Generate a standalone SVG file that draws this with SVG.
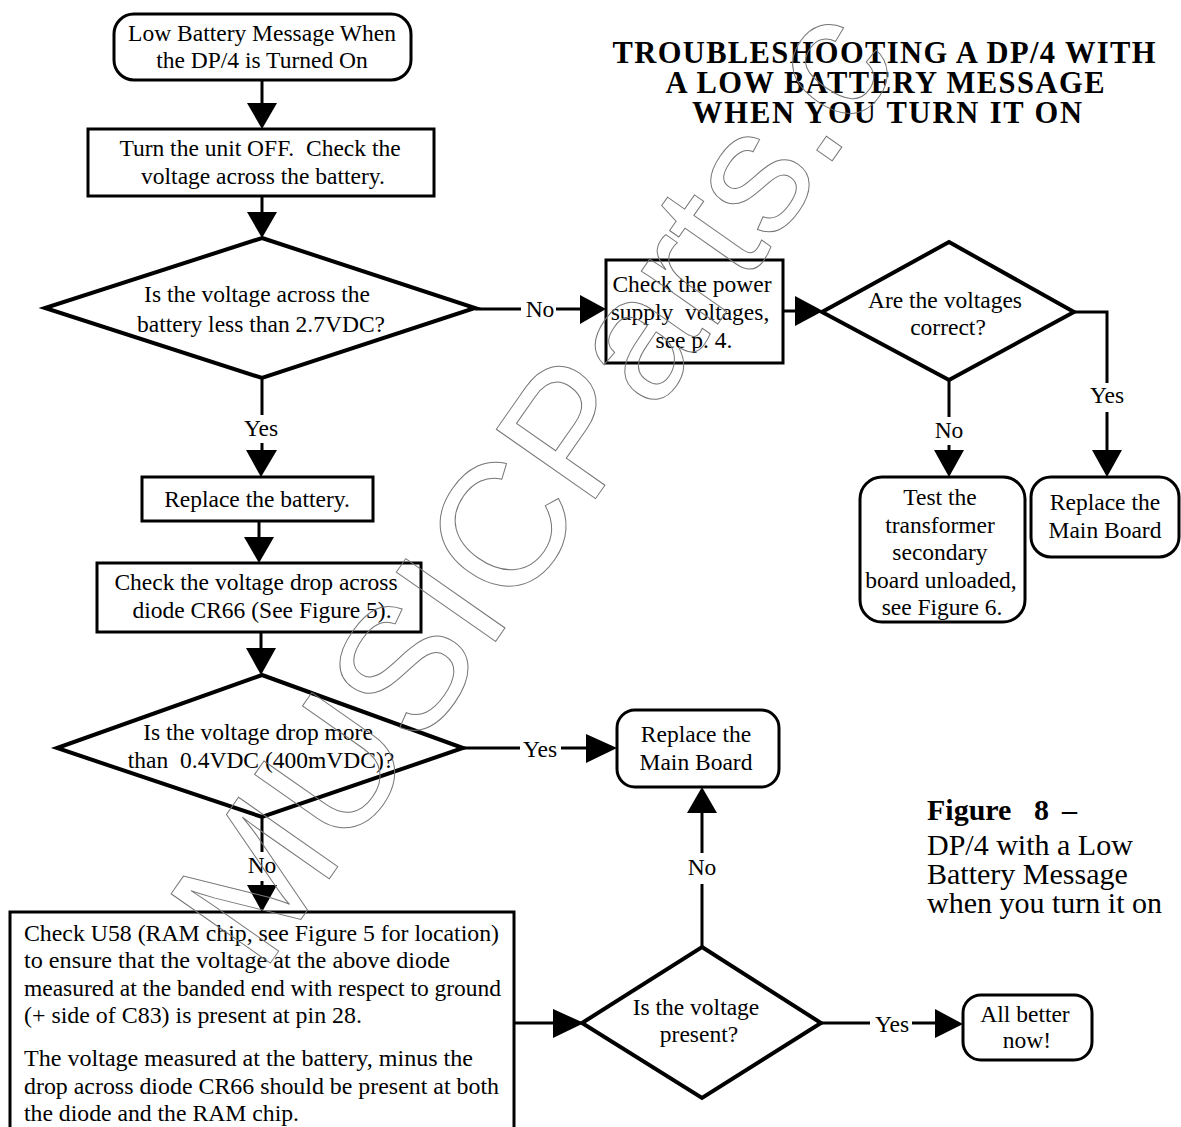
<svg xmlns="http://www.w3.org/2000/svg" width="1181" height="1127" viewBox="0 0 1181 1127">
<style>
text{font-family:"Liberation Serif","Times New Roman",serif;font-size:23.5px;fill:#000}
.c{text-anchor:middle}
.box{fill:#fff;stroke:#000;stroke-width:3}
.dia{fill:#fff;stroke:#000;stroke-width:4;stroke-linejoin:miter}
.ln{fill:none;stroke:#000;stroke-width:3}
.ah{fill:#000;stroke:none}
.title{font-weight:bold;font-size:30.5px}
.cap{font-size:30px}
.capb{font-size:30px;font-weight:bold}
.wm{font-family:"Liberation Sans",Arial,sans-serif;font-size:176px;fill:none;stroke:#777;stroke-width:1}
</style>
<rect width="1181" height="1127" fill="#fff"/>

<g id="title">
<text class="c title" x="884" y="63" textLength="543" lengthAdjust="spacing">TROUBLESHOOTING A DP/4 WITH</text>
<text class="c title" x="885" y="93" textLength="439" lengthAdjust="spacing">A LOW BATTERY MESSAGE</text>
<text class="c title" x="887" y="123" textLength="390" lengthAdjust="spacing">WHEN YOU TURN IT ON</text>
</g>

<g id="connectors">
<line class="ln" x1="262" y1="80" x2="262" y2="105"/>
<polygon class="ah" points="247,103 277,103 262,129"/>
<line class="ln" x1="262" y1="196" x2="262" y2="214"/>
<polygon class="ah" points="247,212 277,212 262,238"/>
<line class="ln" x1="262" y1="378" x2="262" y2="415"/>
<text class="c" x="261" y="436">Yes</text>
<line class="ln" x1="262" y1="443" x2="262" y2="452"/>
<polygon class="ah" points="246,450 277,450 261,477"/>
<line class="ln" x1="259" y1="521" x2="259" y2="539"/>
<polygon class="ah" points="244,537 274,537 259,563"/>
<line class="ln" x1="261" y1="632" x2="261" y2="650"/>
<polygon class="ah" points="246,648 276,648 261,675"/>
<line class="ln" x1="475" y1="309" x2="521" y2="309"/>
<text class="c" x="540" y="317">No</text>
<line class="ln" x1="556" y1="309" x2="582" y2="309"/>
<polygon class="ah" points="580,295 580,324 606,309"/>
<line class="ln" x1="783" y1="311" x2="797" y2="311"/>
<polygon class="ah" points="795,296 795,326 823,311"/>
<polyline class="ln" points="1074,312 1107,312 1107,383"/>
<text class="c" x="1107" y="403">Yes</text>
<line class="ln" x1="1107" y1="412" x2="1107" y2="452"/>
<polygon class="ah" points="1092,450 1122,450 1107,477"/>
<line class="ln" x1="949" y1="380" x2="949" y2="417"/>
<text class="c" x="949" y="438">No</text>
<line class="ln" x1="949" y1="445" x2="949" y2="452"/>
<polygon class="ah" points="934,450 964,450 949,477"/>
<line class="ln" x1="463" y1="748" x2="520" y2="748"/>
<text class="c" x="540" y="757">Yes</text>
<line class="ln" x1="561" y1="748" x2="588" y2="748"/>
<polygon class="ah" points="586,734 586,763 617,748"/>
<line class="ln" x1="262" y1="817" x2="262" y2="852"/>
<text class="c" x="262" y="873">No</text>
<line class="ln" x1="262" y1="881" x2="262" y2="887"/>
<polygon class="ah" points="247,885 277,885 262,912"/>
<line class="ln" x1="514" y1="1023" x2="555" y2="1023"/>
<polygon class="ah" points="553,1009 553,1038 584,1023"/>
<line class="ln" x1="702" y1="947" x2="702" y2="884"/>
<text class="c" x="702" y="875">No</text>
<line class="ln" x1="702" y1="853" x2="702" y2="811"/>
<polygon class="ah" points="687,813 717,813 702,787"/>
<line class="ln" x1="821" y1="1023" x2="870" y2="1023"/>
<text class="c" x="892" y="1032">Yes</text>
<line class="ln" x1="912" y1="1023" x2="937" y2="1023"/>
<polygon class="ah" points="935,1009 935,1038 963,1024"/>
</g>

<g id="start">
<rect class="box" x="114" y="14" width="297" height="66" rx="20"/>
<text class="c" x="262" y="41">Low Battery Message When</text>
<text class="c" x="262" y="68">the DP/4 is Turned On</text>
</g>

<g id="turn-off">
<rect class="box" x="88" y="129" width="346" height="67"/>
<text class="c" x="260" y="156" xml:space="preserve">Turn the unit OFF.  Check the</text>
<text class="c" x="263" y="184">voltage across the battery.</text>
</g>

<g id="dec-battery">
<polygon class="dia" points="262,238 475,308 262,378 45,308"/>
<text class="c" x="257" y="302">Is the voltage across the</text>
<text class="c" x="261" y="332">battery less than 2.7VDC?</text>
</g>

<g id="replace-battery">
<rect class="box" x="142" y="477" width="231" height="44"/>
<text class="c" x="257" y="507">Replace the battery.</text>
</g>

<g id="check-drop">
<rect class="box" x="97" y="563" width="324" height="69"/>
<text class="c" x="256" y="590">Check the voltage drop across</text>
<text class="c" x="262" y="618">diode CR66 (See Figure 5).</text>
</g>

<g id="dec-drop">
<polygon class="dia" points="262,675 463,748 262,817 57,748"/>
<text class="c" x="258" y="740">Is the voltage drop more</text>
<text class="c" x="261" y="768" xml:space="preserve">than  0.4VDC (400mVDC)?</text>
</g>

<g id="replace-main-1">
<rect class="box" x="617" y="710" width="162" height="77" rx="18"/>
<text class="c" x="696" y="742">Replace the</text>
<text class="c" x="696" y="770">Main Board</text>
</g>

<g id="check-u58">
<rect class="box" x="10" y="912" width="504" height="222"/>
<text x="24" y="941" textLength="475" lengthAdjust="spacingAndGlyphs">Check U58 (RAM chip, see Figure 5 for location)</text>
<text x="24" y="968" textLength="426" lengthAdjust="spacingAndGlyphs">to ensure that the voltage at the above diode</text>
<text x="24" y="996" textLength="477" lengthAdjust="spacingAndGlyphs">measured at the banded end with respect to ground</text>
<text x="24" y="1023" textLength="338" lengthAdjust="spacingAndGlyphs">(+ side of C83) is present at pin 28.</text>
<text x="24" y="1066" textLength="449" lengthAdjust="spacingAndGlyphs">The voltage measured at the battery, minus the</text>
<text x="24" y="1094" textLength="475" lengthAdjust="spacingAndGlyphs">drop across diode CR66 should be present at both</text>
<text x="24" y="1121" textLength="275" lengthAdjust="spacingAndGlyphs">the diode and the RAM chip.</text>
</g>

<g id="dec-present">
<polygon class="dia" points="702,947 821,1023 702,1098 582,1023"/>
<text class="c" x="696" y="1015">Is the voltage</text>
<text class="c" x="699" y="1042">present?</text>
</g>

<g id="all-better">
<rect class="box" x="963" y="995" width="129" height="65" rx="18"/>
<text class="c" x="1025" y="1022">All better</text>
<text class="c" x="1027" y="1048">now!</text>
</g>

<g id="check-power">
<rect class="box" x="606" y="260" width="177" height="103"/>
<text class="c" x="692" y="292">Check the power</text>
<text class="c" x="690" y="320" xml:space="preserve">supply  voltages,</text>
<text class="c" x="694" y="348">see p. 4.</text>
</g>

<g id="dec-voltages">
<polygon class="dia" points="949,242 1074,312 949,380 822,312"/>
<text class="c" x="945" y="308">Are the voltages</text>
<text class="c" x="948" y="335">correct?</text>
</g>

<g id="test-transformer">
<rect class="box" x="860" y="477" width="165" height="145" rx="22"/>
<text class="c" x="940" y="505">Test the</text>
<text class="c" x="940" y="533">transformer</text>
<text class="c" x="940" y="560">secondary</text>
<text class="c" x="941" y="588">board unloaded,</text>
<text class="c" x="942" y="615">see Figure 6.</text>
</g>

<g id="replace-main-2">
<rect class="box" x="1031" y="477" width="148" height="80" rx="20"/>
<text class="c" x="1105" y="510">Replace the</text>
<text class="c" x="1105" y="538">Main Board</text>
</g>

<g id="caption">
<text class="capb" y="820"><tspan x="927">Figure</tspan><tspan x="1034">8</tspan><tspan x="1062">–</tspan></text>
<text class="cap" x="927" y="855">DP/4 with a Low</text>
<text class="cap" x="927" y="884">Battery Message</text>
<text class="cap" x="927" y="913">when you turn it on</text>
</g>

<g id="watermark">
<text class="wm" transform="translate(262,975) rotate(-55)">MUSICParts.c</text>
</g>
</svg>
